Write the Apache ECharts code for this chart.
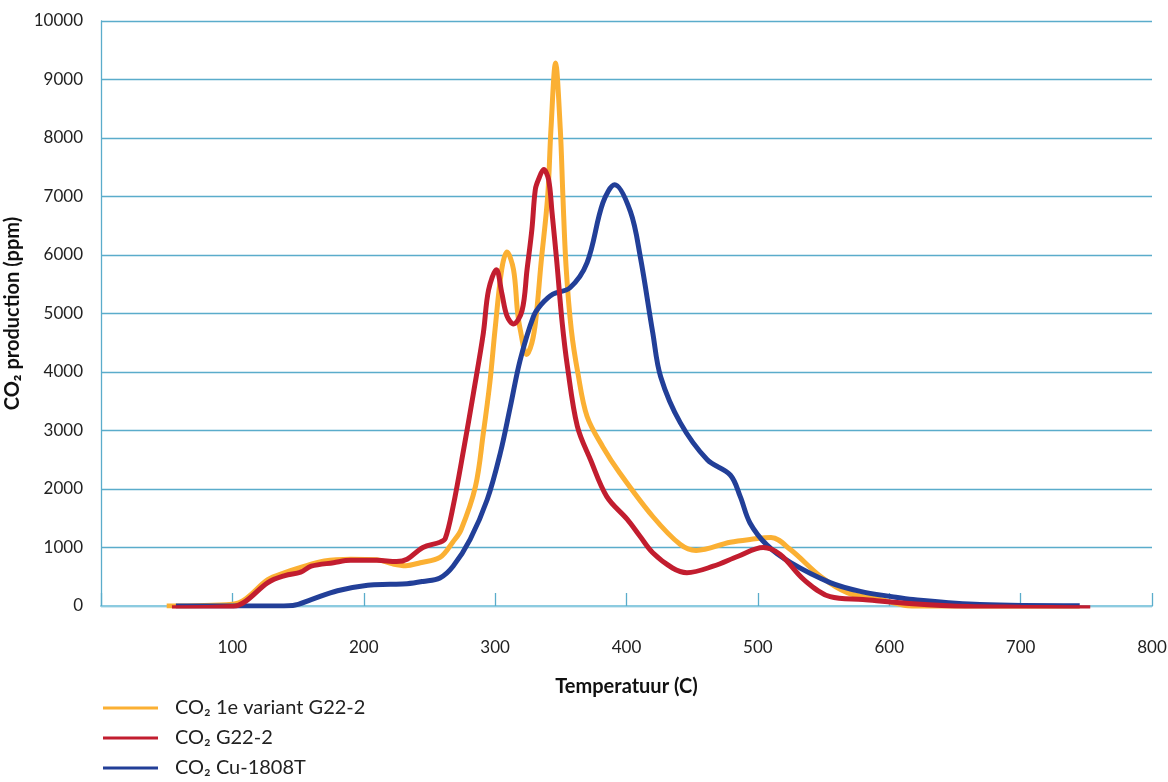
<!DOCTYPE html>
<html lang="nl">
  <head>
    <meta charset="UTF-8" />
    <title>CO2 productie</title>
    <style>
      * {
        margin: 0;
        padding: 0;
      }
      #main {
        width: 1168px;
        height: 782px;
      }
    </style>
  </head>
  <body>
    <div id="main"></div>
    <script src="https://cdn.jsdelivr.net/npm/echarts@6/dist/echarts.min.js"></script>
    <script>
      // series names (legend order)
      var names = ["CO₂ 1e variant G22-2", "CO₂ G22-2", "CO₂ Cu-1808T"];

      // CO2 1e variant G22-2 (orange)
      var orangeX = [50, 100, 110, 127, 140, 152, 170, 190, 210, 222, 232, 243, 258, 268, 274, 285, 291, 296, 300, 305, 309, 314, 317, 319, 324, 328, 331, 335, 340, 342.5, 346, 349.6, 351.6, 354, 358, 363, 370, 382, 395, 420, 441, 453, 479, 495, 510, 525, 548, 568, 593, 618, 650, 700, 745];
      var orangeY = [0, 30, 120, 450, 570, 660, 770, 800, 790, 720, 690, 740, 830, 1100, 1300, 2040, 2950, 3820, 4740, 5750, 6050, 5750, 5040, 4740, 4300, 4500, 4900, 5870, 7000, 8150, 9280, 8150, 7000, 5800, 4720, 3980, 3240, 2720, 2270, 1530, 1050, 950, 1090, 1140, 1170, 960, 500, 230, 110, -10, -30, -40, -50];

      // CO2 G22-2 (red)
      var redX = [54, 100, 110, 127, 140, 152, 160, 177, 190, 210, 225, 233, 245, 258, 262, 268, 276, 283.5, 291, 295, 301, 305, 309, 314, 320.5, 324.3, 328, 330.6, 333, 337, 340.7, 343.3, 347, 351, 355, 362.6, 372.6, 385, 400.6, 410, 420, 435, 446, 466, 485, 504, 517, 535, 555, 580, 618, 660, 700, 753];
      var redY = [-30, -10, 80, 400, 520, 580, 680, 740, 780, 780, 760, 800, 1000, 1090, 1150, 1700, 2670, 3640, 4660, 5400, 5750, 5360, 4960, 4820, 5050, 5750, 6440, 7120, 7290, 7460, 7290, 6730, 5870, 4850, 4100, 3070, 2500, 1870, 1480, 1200, 910, 650, 570, 680, 850, 1000, 880, 450, 160, 110, 40, -10, -20, -30];

      // CO2 Cu-1808T (blue)
      var blueX = [57, 100, 130, 146, 160, 180, 203, 220, 233, 245, 258, 268, 281, 294, 304, 311.6, 319, 329, 335, 344, 357, 370, 382, 391, 403, 410.5, 420, 426, 441, 461.5, 479, 486.6, 494, 507, 525, 555, 578, 602, 618, 669, 745];
      var blueY = [0, 0, 0, 10, 110, 260, 355, 370, 380, 420, 480, 680, 1140, 1820, 2620, 3410, 4200, 4940, 5150, 5330, 5440, 5870, 6890, 7200, 6740, 5970, 4670, 3920, 3130, 2500, 2240, 1870, 1420, 1040, 740, 400, 250, 160, 110, 25, 5];

      var colors = ["#fbb033", "#c21d2f", "#223f98"];
      var gridColor = "#5aaccb";
      var labelFont = "Lato, 'Noto Sans', sans-serif";

      function pairs(xs, ys) {
        return xs.map(function (x, i) {
          return [x, ys[i]];
        });
      }

      function lineSeries(name, color, data) {
        return {
          name: name,
          type: "line",
          data: data,
          smooth: 0.35,
          symbol: "none",
          lineStyle: { color: color, width: 5 },
          itemStyle: { color: color },
        };
      }

      var chart = echarts.init(document.getElementById("main"));
      chart.setOption({
        animation: false,
        textStyle: { fontFamily: labelFont },
        grid: { left: 101, right: 16, top: 21, bottom: 176, outerBoundsMode: "none" },
        legend: {
          data: names,
          orient: "vertical",
          left: 103,
          top: 698,
          padding: 0,
          icon: "rect",
          itemWidth: 55,
          itemHeight: 3,
          itemGap: 10,
          textStyle: { fontSize: 20, color: "#222", padding: [0, 0, 0, 12], lineHeight: 20 },
        },
        xAxis: {
          type: "value",
          min: 0,
          max: 800,
          interval: 100,
          name: "Temperatuur (C)",
          nameLocation: "middle",
          nameGap: 71,
          nameTextStyle: { fontSize: 20, fontWeight: "bold", color: "#111" },
          axisLine: { show: true, lineStyle: { color: "#8ccbe0", width: 2 } },
          axisTick: { show: true, inside: true, length: 13, lineStyle: { color: gridColor, width: 1.3 } },
          axisLabel: {
            fontSize: 17,
            color: "#222",
            margin: 33,
            formatter: function (v) {
              return v === 0 ? "" : String(v);
            },
          },
          splitLine: { show: false },
        },
        yAxis: {
          type: "value",
          min: 0,
          max: 10000,
          interval: 1000,
          name: "CO₂ production (ppm)",
          nameLocation: "middle",
          nameGap: 62,
          nameTextStyle: { fontSize: 20, fontWeight: "bold", color: "#111" },
          axisLine: { show: true, lineStyle: { color: gridColor, width: 1.3 } },
          axisTick: { show: false },
          axisLabel: {
            fontSize: 17,
            color: "#222",
            margin: 18,
            formatter: function (v) {
              return String(v);
            },
          },
          splitLine: { lineStyle: { color: gridColor, width: 1.3 } },
        },
        // draw order: orange below, red on top
        series: [
          lineSeries(names[0], colors[0], pairs(orangeX, orangeY)),
          lineSeries(names[2], colors[2], pairs(blueX, blueY)),
          lineSeries(names[1], colors[1], pairs(redX, redY)),
        ],
      });
    </script>
  </body>
</html>
